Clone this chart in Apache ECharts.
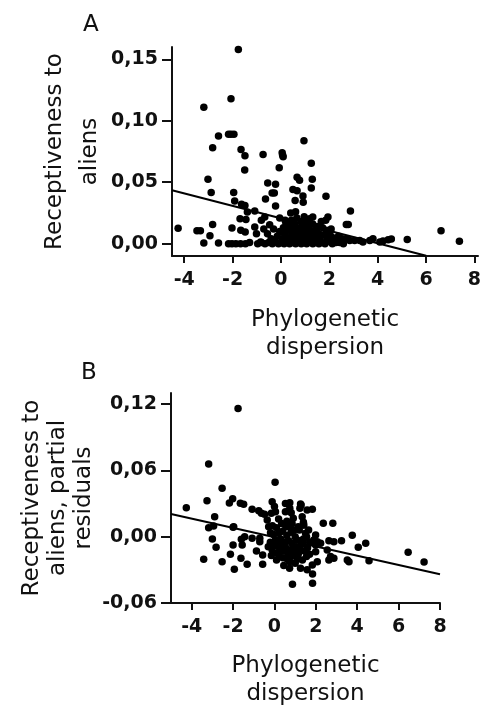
<!DOCTYPE html>
<html><head><meta charset="utf-8">
<script src="https://cdn.jsdelivr.net/npm/echarts@6/dist/echarts.min.js"></script>
<style>html,body{margin:0;padding:0;background:#fff}#c{width:484px;height:709px}</style>
</head><body><div id="c"></div>
<script>
// ---- Data ----
const panelLabels = ['A', 'B'];
const xTitle = 'Phylogenetic\ndispersion';
const yTitleA = 'Receptiveness to\naliens';
const yTitleB = 'Receptiveness to\naliens, partial\nresiduals';

// Panel A: phylogenetic dispersion vs receptiveness to aliens
const pointsA = [
 [-1.79,0.158],[-3.20,0.111],[-2.09,0.118],[-2.60,0.0876],[-2.19,0.089],[-2.09,0.089],[-1.97,0.089],
 [-2.84,0.078],[-1.68,0.0767],[-1.52,0.0715],[-1.53,0.060],[-3.03,0.0525],[-2.90,0.0416],[-1.98,0.0416],
 [-1.94,0.0348],[-1.66,0.032],[-1.52,0.031],[-1.12,0.0266],[-4.25,0.0125],[-3.48,0.0106],[-3.34,0.0106],
 [-2.84,0.0157],[-2.95,0.0065],[-3.20,0.0005],[-2.60,0.0005],[-2.05,0.0127],[-2.19,0],[-2.05,0],[-1.89,0],
 [-1.70,0],[-1.50,0],[-1.33,0.001],[-1.72,0.0204],[-1.48,0.0196],[-1.69,0.011],[-1.51,0.0095],[-1.42,0.0258],
 [-0.78,0.0726],[-0.59,0.0494],[-0.68,0.0364],[-0.27,0.0484],[-0.32,0.0413],[-0.41,0.0413],[0,0.074],
 [0.04,0.0707],[0.02,0.072],[-0.12,0.0617],[-0.27,0.0307],[0.89,0.0837],[1.19,0.0655],[1.23,0.0525],
 [1.19,0.0454],[0.61,0.054],[0.71,0.0516],[0.44,0.044],[0.61,0.043],[0.53,0.0351],[0.85,0.0389],
 [0.86,0.0337],[1.79,0.0386],[2.79,0.0266],[2.70,0.0157],[2.62,0.0157],[6.49,0.0106],[7.24,0.0019],
 [5.11,0.0035],[4.46,0.0038],[4.33,0.0032],[4.12,0.0021],[3.99,0.0013],[3.71,0.004],[3.58,0.0027],
 [3.30,0.0013],[3.17,0.0027],[2.96,0.0027],[2.76,0.0027],[2.62,0.004],[1.87,0.0217],[1.78,0.019],
 [1.25,0.0217],[1.12,0.0204],[1.46,0.014],[-0.85,0.019],[-0.71,0.0217],[-0.51,0.0155],[-1.12,0.0136],
 [-1.05,0.008],[-0.88,0.0013],
 [-1.0,0],[-0.85,0.001],[-0.7,0],[-0.55,0.001],[-0.4,0],[-0.3,0.002],[-0.15,0],[-0.05,0.001],[0.08,0],
 [0.2,0.002],[0.3,0],[0.42,0.001],[0.55,0],[0.65,0.002],[0.78,0],[0.9,0.001],[1.0,0],[1.12,0.002],
 [1.25,0],[1.38,0.001],[1.5,0],[1.62,0.001],[1.75,0],[1.9,0.002],[2.05,0],[2.2,0.001],[2.35,0.001],[2.5,0],
 [-0.2,0.006],[-0.1,0.01],[0.0,0.004],[0.05,0.013],[0.1,0.008],[0.15,0.017],[0.2,0.005],[0.25,0.011],
 [0.3,0.015],[0.32,0.003],[0.38,0.019],[0.4,0.008],[0.45,0.012],[0.5,0.005],[0.52,0.016],[0.58,0.009],
 [0.6,0.021],[0.65,0.004],[0.7,0.013],[0.72,0.007],[0.78,0.018],[0.8,0.01],[0.85,0.005],[0.88,0.015],
 [0.92,0.012],[0.95,0.003],[1.0,0.008],[1.02,0.019],[1.05,0.014],[1.1,0.006],[1.15,0.011],[1.2,0.004],
 [1.25,0.016],[1.3,0.009],[1.35,0.006],[1.4,0.012],[1.5,0.008],[1.55,0.004],[1.6,0.018],[1.7,0.007],
 [1.8,0.011],[1.85,0.004],[1.95,0.008],[2.05,0.005],[2.15,0.003],[-0.6,0.008],[-0.45,0.004],
 [-0.75,0.012],[0.35,0.025],[0.55,0.026],[0.9,0.022],[-0.1,0.021],[2.3,0.006],[2.45,0.004],
 [-0.35,0.012],[0.12,0.019],[1.65,0.013],[2.0,0.012]
];
const fitA = [[-4.5,0.0435],[5.88,-0.0098]];

// Panel B: phylogenetic dispersion vs partial residuals
const pointsB = [
 [-1.76,0.116],[-3.18,0.0658],[-2.53,0.0438],[0.03,0.0492],[-4.26,0.0262],[-3.26,0.0326],[-3.18,0.0081],
 [-2.94,0.0097],[-2.89,0.018],[-3.0,-0.0021],[-2.82,-0.0096],[-3.42,-0.0205],[-2.53,-0.0226],[-2.18,0.0305],
 [-2.02,0.0344],[-2.0,0.0085],[-2.0,-0.0075],[-2.13,-0.016],[-1.94,-0.0295],[-1.65,0.0302],[-1.49,0.0293],
 [-1.6,-0.0024],[-1.56,-0.0075],[-1.62,-0.0196],[-1.32,-0.025],[-1.44,0],[-1.08,0.0248],[-0.76,0.0235],
 [-0.63,0.0212],[-0.48,0.0203],[-1.08,-0.0015],[-0.71,-0.0015],[-0.71,-0.0045],[-0.87,-0.013],
 [-0.57,-0.0166],[-0.57,-0.025],[-0.35,0.0151],[-0.28,0.009],[-0.19,0.0036],[-0.11,0.0317],[0,0.0272],
 [0.05,0.0226],[-0.15,0.0212],[-0.11,-0.012],[0.13,-0.015],[0.53,0.0226],[0.74,0.0257],[0.91,0.0167],
 [0.73,0.009],[0.74,0.0308],[1.26,0.0296],[1.23,0.0257],[1.83,0.0248],[1.39,0.0106],[2.36,0.0121],
 [0.87,-0.0431],[1.84,-0.0422],[1.84,-0.0338],[0.73,-0.0286],[1.26,-0.0286],[1.58,-0.030],[0.73,-0.0226],
 [1.1,-0.0205],[6.46,-0.0141],[7.23,-0.0229],[3.76,0.0013],[4.05,-0.0096],[4.41,-0.006],[3.24,-0.0036],
 [4.57,-0.0217],[3.52,-0.021],[3.6,-0.0226],[2.82,0.0121],[2.63,-0.0036],[2.87,-0.0045],[2.55,-0.012],
 [2.71,-0.018],[2.87,-0.0196],[2.63,-0.021],[1.99,0.0015],[2.07,-0.0045],[1.99,-0.0075],[2.23,-0.006],
 [1.99,-0.0136],[2.07,-0.0226],[1.83,-0.0256],[0.53,0.030],[0.81,0.0217],[1.29,0.0287],[1.58,0.0242],
 [1.34,0.018],[1.42,0.0106],[-1.97,0.009],
 [0.1,0.008],[0.2,0.003],[0.3,-0.002],[0.4,0.005],[0.5,-0.006],[0.6,0.001],[0.7,-0.004],[0.8,0.004],
 [0.9,-0.009],[1.0,0.0],[1.1,-0.003],[1.2,0.006],[1.3,-0.007],[1.4,-0.002],[1.5,0.003],[1.6,-0.01],
 [1.7,-0.005],[0.15,-0.006],[0.25,-0.011],[0.35,-0.008],[0.45,-0.013],[0.55,-0.01],[0.65,-0.015],
 [0.75,-0.012],[0.85,-0.006],[0.95,-0.014],[1.05,-0.009],[1.15,-0.016],[1.25,-0.012],[1.35,-0.006],
 [1.45,-0.013],[1.55,0.0],[0.05,-0.003],[-0.05,0.002],[-0.2,-0.005],[-0.3,-0.009],[-0.15,-0.017],
 [0.0,-0.008],[0.2,-0.016],[0.4,-0.019],[0.6,-0.02],[0.8,-0.018],[1.0,-0.017],[0.35,0.012],[0.55,0.009],
 [0.95,0.006],[1.15,0.009],[1.4,0.013],[0.2,0.016],[0.6,0.014],[1.0,-0.024],[0.45,-0.026],[1.35,-0.021],
 [1.65,0.006],[1.7,-0.016],[0.1,-0.021],[-0.1,0.01],[0.85,0.012],[1.9,-0.003],[1.55,-0.018]
];
const fitB = [[-5,0.0205],[8,-0.034]];

// Axis ranges and ticks
const rangeAX = [-4.5, 8], ticksAX = [-4, 8, 2];
const rangeAY = [-0.01, 0.16], ticksAY = [0, 0.15, 0.05];
const rangeBX = [-5, 8], ticksBX = [-4, 8, 2];
const rangeBY = [-0.06, 0.13], ticksBY = [-0.06, 0.12, 0.06];

// ---- Layout ----
const boxA = {left: 172, top: 47, width: 306, height: 209};
const boxB = {left: 171, top: 393, width: 269, height: 210};

const INK = '#111';
const labelFont = {color: INK, fontFamily: 'DejaVu Sans', fontWeight: 'bold', fontSize: 19};
const nameFont = {color: INK, fontFamily: 'DejaVu Sans', fontSize: 23};

function tickGrid(box, rx, ry, tx, ty) {
  const sx = box.width / (rx[1] - rx[0]);
  const sy = box.height / (ry[1] - ry[0]);
  const left = box.left + (tx[0] - rx[0]) * sx;
  const width = (tx[1] - tx[0]) * sx;
  const top = box.top + (ry[1] - ty[1]) * sy;
  const height = (ty[1] - ty[0]) * sy;
  return {grid: {left, top, width, height},
          xOffset: (box.top + box.height) - (top + height),
          yOffset: left - box.left};
}
const tA = tickGrid(boxA, rangeAX, rangeAY, ticksAX, ticksAY);
const tB = tickGrid(boxB, rangeBX, rangeBY, ticksBX, ticksBY);

const comma = v => v.toFixed(2).replace('.', ',');

function mainX(range, gi, gap) {
  return {type: 'value', gridIndex: gi, min: range[0], max: range[1],
    axisLine: {show: true, onZero: false, lineStyle: {color: INK, width: 2}},
    axisTick: {show: false}, axisLabel: {show: false}, splitLine: {show: false},
    name: xTitle, nameLocation: 'middle', nameGap: gap,
    nameTextStyle: Object.assign({lineHeight: 28}, nameFont)};
}
function mainY(range, gi, name, gap, lh) {
  return {type: 'value', gridIndex: gi, min: range[0], max: range[1],
    axisLine: {show: true, onZero: false, lineStyle: {color: INK, width: 2}},
    axisTick: {show: false}, axisLabel: {show: false}, splitLine: {show: false},
    name: name, nameLocation: 'middle', nameGap: gap, nameRotate: 90,
    nameTextStyle: Object.assign({lineHeight: lh}, nameFont)};
}
function tickX(t, gi, off) {
  return {type: 'value', gridIndex: gi, min: t[0], max: t[1], interval: t[2], offset: off,
    axisLine: {show: false, onZero: false},
    axisTick: {show: true, length: 7, lineStyle: {color: INK, width: 2}},
    axisLabel: Object.assign({margin: 15, formatter: v => String(v)}, labelFont),
    splitLine: {show: false}};
}
function tickY(t, gi, off) {
  return {type: 'value', gridIndex: gi, min: t[0], max: t[1], interval: t[2], offset: off,
    axisLine: {show: false, onZero: false},
    axisTick: {show: true, length: 10, lineStyle: {color: INK, width: 2}},
    axisLabel: Object.assign({margin: 14, formatter: comma}, labelFont),
    splitLine: {show: false}};
}

const chart = echarts.init(document.getElementById('c'), null, {renderer: 'canvas'});
chart.setOption({
  backgroundColor: '#fff',
  animation: false,
  grid: [boxA, tA.grid, boxB, tB.grid].map(g => Object.assign({containLabel: false}, g)),
  xAxis: [
    mainX(rangeAX, 0, 50), tickX(ticksAX, 1, tA.xOffset),
    mainX(rangeBX, 2, 49), tickX(ticksBX, 3, tB.xOffset)
  ],
  yAxis: [
    mainY(rangeAY, 0, yTitleA, 64, 35), tickY(ticksAY, 1, tA.yOffset),
    mainY(rangeBY, 2, yTitleB, 74, 26), tickY(ticksBY, 3, tB.yOffset)
  ],
  graphic: [
    {type: 'text', left: 83, top: 14, style: {text: panelLabels[0], fill: INK, font: '23px "DejaVu Sans"'}},
    {type: 'text', left: 81, top: 362, style: {text: panelLabels[1], fill: INK, font: '23px "DejaVu Sans"'}}
  ],
  series: [
    {type: 'scatter', xAxisIndex: 0, yAxisIndex: 0, data: pointsA, symbolSize: 7.5,
     itemStyle: {color: '#000', opacity: 1}},
    {type: 'line', xAxisIndex: 0, yAxisIndex: 0, data: fitA, symbol: 'none',
     lineStyle: {color: '#000', width: 2}},
    {type: 'scatter', xAxisIndex: 2, yAxisIndex: 2, data: pointsB, symbolSize: 7.5,
     itemStyle: {color: '#000', opacity: 1}},
    {type: 'line', xAxisIndex: 2, yAxisIndex: 2, data: fitB, symbol: 'none',
     lineStyle: {color: '#000', width: 2}}
  ]
});
</script></body></html>
